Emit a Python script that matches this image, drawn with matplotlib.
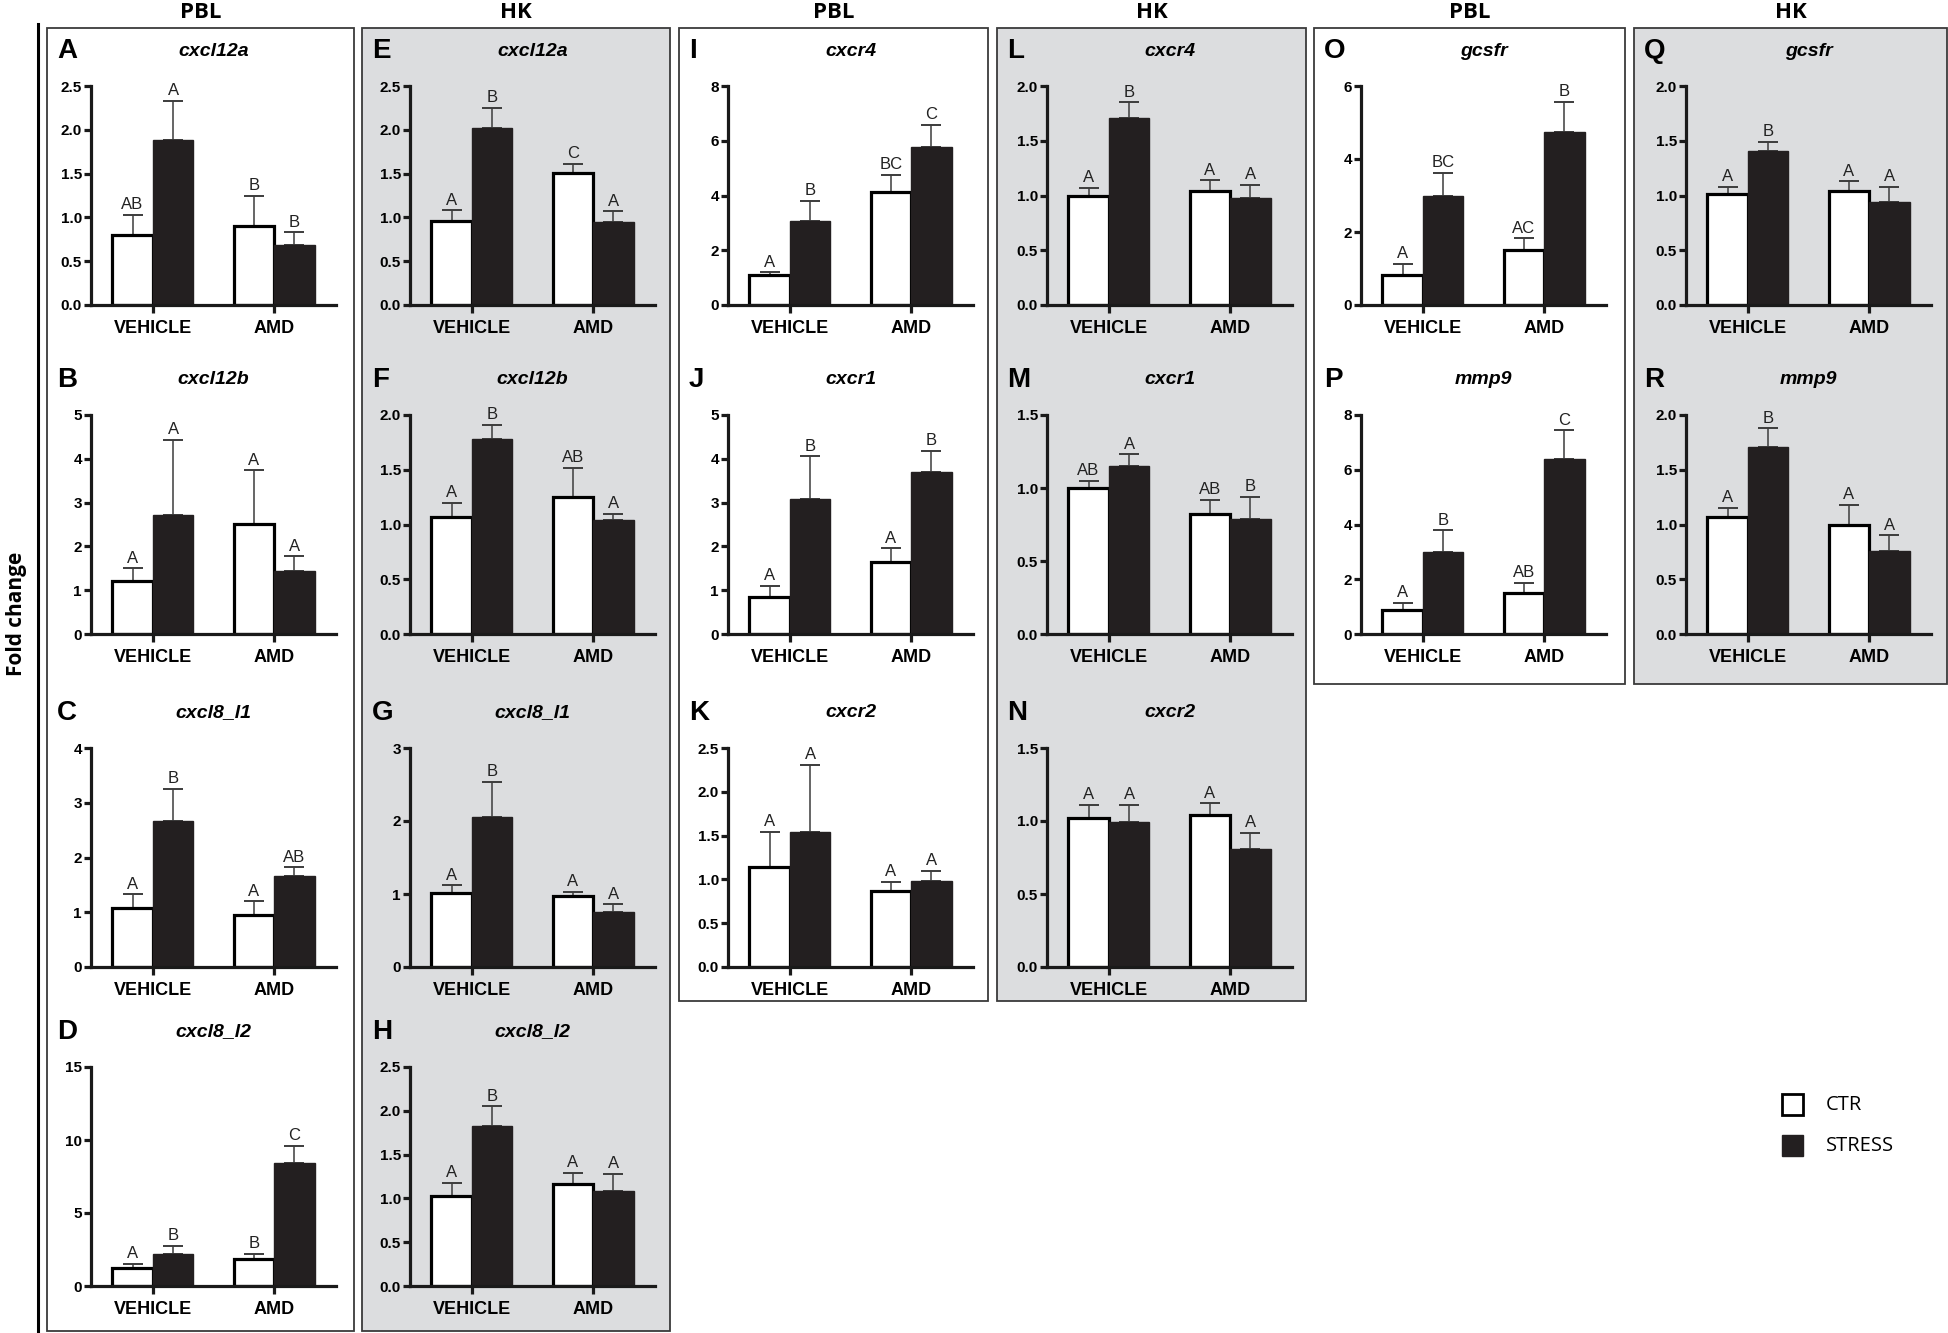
import matplotlib
matplotlib.use('Agg')
import matplotlib.pyplot as plt
from matplotlib.patches import Rectangle
from matplotlib.lines import Line2D

W, H = 1949, 1333

# panel data, order A..R ; each value pair is [VEHICLE, AMD]
letters = ['A', 'B', 'C', 'D', 'E', 'F', 'G', 'H', 'I', 'J', 'K', 'L', 'M', 'N', 'O', 'P', 'Q', 'R']
genes = ['cxcl12a', 'cxcl12b', 'cxcl8_l1', 'cxcl8_l2',
         'cxcl12a', 'cxcl12b', 'cxcl8_l1', 'cxcl8_l2',
         'cxcr4', 'cxcr1', 'cxcr2',
         'cxcr4', 'cxcr1', 'cxcr2',
         'gcsfr', 'mmp9',
         'gcsfr', 'mmp9']
panel_col = [0, 0, 0, 0, 1, 1, 1, 1, 2, 2, 2, 3, 3, 3, 4, 4, 5, 5]
panel_row = [0, 1, 2, 3, 0, 1, 2, 3, 0, 1, 2, 0, 1, 2, 0, 1, 0, 1]
y_max = [2.5, 5, 4, 15, 2.5, 2.0, 3, 2.5, 8, 5, 2.5, 2.0, 1.5, 1.5, 6, 8, 2.0, 2.0]
y_step = [0.5, 1, 1, 5, 0.5, 0.5, 1, 0.5, 2, 1, 0.5, 0.5, 0.5, 0.5, 2, 2, 0.5, 0.5]
y_decimals = [1, 0, 0, 0, 1, 1, 0, 1, 0, 0, 1, 1, 1, 1, 0, 0, 1, 1]

ctr_mean = [[0.80, 0.90], [1.22, 2.52], [1.07, 0.95], [1.23, 1.83],
            [0.96, 1.51], [1.07, 1.25], [1.01, 0.97], [1.03, 1.16],
            [1.11, 4.13], [0.85, 1.64], [1.14, 0.87],
            [1.00, 1.04], [1.00, 0.82], [1.02, 1.04],
            [0.83, 1.50], [0.88, 1.50],
            [1.01, 1.04], [1.07, 1.00]]
ctr_sem = [[0.23, 0.35], [0.28, 1.22], [0.26, 0.25], [0.30, 0.38],
           [0.12, 0.10], [0.13, 0.27], [0.11, 0.06], [0.15, 0.13],
           [0.09, 0.63], [0.25, 0.32], [0.40, 0.10],
           [0.07, 0.10], [0.05, 0.10], [0.09, 0.08],
           [0.30, 0.33], [0.26, 0.36],
           [0.07, 0.09], [0.08, 0.18]]
stress_mean = [[1.88, 0.68], [2.71, 1.44], [2.67, 1.66], [2.17, 8.40],
               [2.02, 0.95], [1.78, 1.04], [2.05, 0.75], [1.83, 1.08],
               [3.08, 5.77], [3.09, 3.69], [1.54, 0.98],
               [1.71, 0.98], [1.15, 0.79], [0.99, 0.81],
               [2.99, 4.74], [3.00, 6.40],
               [1.41, 0.94], [1.71, 0.76]]
stress_sem = [[0.45, 0.15], [1.72, 0.33], [0.59, 0.16], [0.57, 1.21],
              [0.23, 0.12], [0.13, 0.06], [0.49, 0.11], [0.22, 0.20],
              [0.73, 0.81], [0.97, 0.49], [0.77, 0.12],
              [0.14, 0.12], [0.08, 0.15], [0.12, 0.11],
              [0.64, 0.82], [0.79, 1.04],
              [0.08, 0.14], [0.17, 0.14]]
ctr_sig = [['AB', 'B'], ['A', 'A'], ['A', 'A'], ['A', 'B'],
           ['A', 'C'], ['A', 'AB'], ['A', 'A'], ['A', 'A'],
           ['A', 'BC'], ['A', 'A'], ['A', 'A'],
           ['A', 'A'], ['AB', 'AB'], ['A', 'A'],
           ['A', 'AC'], ['A', 'AB'],
           ['A', 'A'], ['A', 'A']]
stress_sig = [['A', 'B'], ['A', 'A'], ['B', 'AB'], ['B', 'C'],
              ['B', 'A'], ['B', 'A'], ['B', 'A'], ['B', 'A'],
              ['B', 'C'], ['B', 'B'], ['A', 'A'],
              ['B', 'A'], ['A', 'B'], ['A', 'A'],
              ['BC', 'B'], ['B', 'C'],
              ['B', 'A'], ['B', 'A']]
groups = ['VEHICLE', 'AMD']
col_headers = ['PBL', 'HK', 'PBL', 'HK', 'PBL', 'HK']
legend_labels = ['CTR', 'STRESS']

# layout in pixels of the 1949x1333 picture
box_left = [47, 362, 679, 997, 1314, 1634]
box_right = [354, 670, 988, 1306, 1625, 1947]
box_bottom = [1331, 1331, 1001, 1001, 684, 684]
box_top = 28
axes_left = [91, 410, 728, 1047, 1361, 1686]
axes_w = 245
row_zero = [305, 634, 967, 1286]
axes_h = 219

grey = '#dcdddf'
bar_black = '#231f20'
err_col = '#3c3c3c'
body_font = ['Liberation Sans', 'DejaVu Sans']
head_font = ['Open Sans', 'DejaVu Sans']


def fx(px):
    return px / W


def fy(py):
    return 1 - py / H


fig = plt.figure(figsize=(W / 100, H / 100), dpi=100)

# column boxes
for c in range(6):
    face = 'white' if c % 2 == 0 else grey
    fig.add_artist(Rectangle((fx(box_left[c]), fy(box_bottom[c])),
                             fx(box_right[c] - box_left[c]), (box_bottom[c] - box_top) / H,
                             transform=fig.transFigure, facecolor=face,
                             edgecolor='#3a3a3a', linewidth=1.3, zorder=-2))
    fig.text(fx((box_left[c] + box_right[c]) / 2), fy(13), col_headers[c],
             ha='center', va='center', fontsize=16, fontweight='bold', family=head_font)

fig.add_artist(Line2D([fx(38), fx(38)], [fy(24), fy(1333)], transform=fig.transFigure,
                      color='black', linewidth=2.2))
fig.text(fx(17), fy(614), 'Fold change', rotation=90, ha='center', va='center',
         fontsize=15, fontweight='bold', family=head_font)

xpos = [0, 1]
bw = 0.335

for i in range(len(letters)):
    c = panel_col[i]
    r = panel_row[i]
    ax = fig.add_axes([fx(axes_left[c]), fy(row_zero[r]), axes_w / W, axes_h / H])
    ax.set_facecolor('none')

    x_ctr = [x - bw / 2 for x in xpos]
    x_str = [x + bw / 2 for x in xpos]
    ax.bar(x_ctr, ctr_mean[i], width=bw, color='white', edgecolor='black',
           linewidth=2.3, zorder=3)
    ax.bar(x_str, stress_mean[i], width=bw, color=bar_black, edgecolor=bar_black,
           linewidth=1, zorder=3)
    ax.errorbar(x_ctr, ctr_mean[i], yerr=[[0, 0], ctr_sem[i]], fmt='none',
                ecolor=err_col, elinewidth=1.1, capsize=7, capthick=1.4, zorder=2)
    ax.errorbar(x_str, stress_mean[i], yerr=[[0, 0], stress_sem[i]], fmt='none',
                ecolor=err_col, elinewidth=1.1, capsize=7, capthick=1.4, zorder=2)

    pad = y_max[i] * 0.012
    for k in range(2):
        ax.text(x_ctr[k], ctr_mean[i][k] + ctr_sem[i][k] + pad, ctr_sig[i][k],
                ha='center', va='bottom', fontsize=12, family=body_font, color='#222222')
        ax.text(x_str[k], stress_mean[i][k] + stress_sem[i][k] + pad, stress_sig[i][k],
                ha='center', va='bottom', fontsize=12, family=body_font, color='#222222')

    ax.set_xlim(-0.51, 1.51)
    ax.set_ylim(0, y_max[i])
    n = int(round(y_max[i] / y_step[i]))
    ticks = [k * y_step[i] for k in range(n + 1)]
    ax.set_yticks(ticks)
    ax.set_yticklabels([f'{t:.{y_decimals[i]}f}' for t in ticks])
    ax.set_xticks(xpos)
    ax.set_xticklabels(groups)

    for s in ['top', 'right']:
        ax.spines[s].set_visible(False)
    for s in ['left', 'bottom']:
        ax.spines[s].set_linewidth(2.3)
        ax.spines[s].set_color('#1a1a1a')
    ax.spines['bottom'].set_zorder(4)
    ax.tick_params(axis='both', width=2.3, length=5, color='#1a1a1a', pad=1.5)
    ax.tick_params(axis='x', length=6, pad=5)
    for lab in ax.get_yticklabels():
        lab.set_fontsize(11)
        lab.set_fontweight('bold')
        lab.set_family(body_font)
    for lab in ax.get_xticklabels():
        lab.set_fontsize(13)
        lab.set_fontweight('bold')
        lab.set_family(body_font)

    ty = row_zero[r] - axes_h - 35
    fig.text(fx(box_left[c] + 10), fy(ty), letters[i], ha='left', va='center',
             fontsize=20, fontweight='bold', family=body_font)
    fig.text(fx(axes_left[c] + axes_w / 2), fy(ty), genes[i], ha='center', va='center',
             fontsize=14, fontweight='bold', style='italic', family=body_font)

# legend
sq = 21
fig.add_artist(Rectangle((fx(1782), fy(1094 + sq)), sq / W, sq / H, transform=fig.transFigure,
                         facecolor='white', edgecolor='black', linewidth=2))
fig.add_artist(Rectangle((fx(1782), fy(1135 + sq)), sq / W, sq / H, transform=fig.transFigure,
                         facecolor=bar_black, edgecolor=bar_black, linewidth=1))
fig.text(fx(1826), fy(1105), legend_labels[0], ha='left', va='center', fontsize=14.5, family=head_font)
fig.text(fx(1826), fy(1146), legend_labels[1], ha='left', va='center', fontsize=14.5, family=head_font)

fig.savefig('out.png', dpi=100)
